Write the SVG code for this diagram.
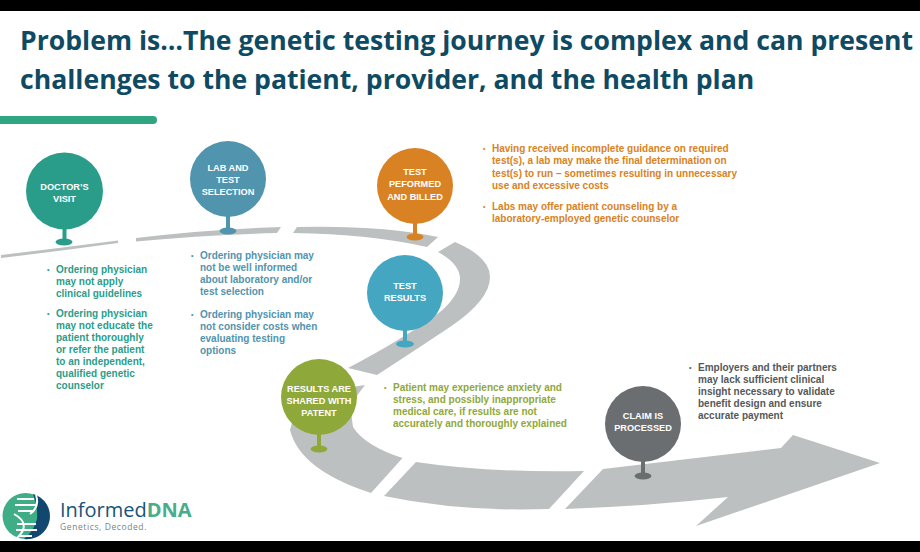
<svg xmlns="http://www.w3.org/2000/svg" width="920" height="552" viewBox="0 0 920 552">
<style>
.t{font-family:"Open Sans","Liberation Sans",sans-serif;font-weight:700;font-size:26.6px;fill:#0f4a63}
.n{font-family:"Liberation Sans",Arial,sans-serif;font-weight:700;font-size:9.2px;fill:#fff;text-anchor:middle}
.b{font-family:"Liberation Sans",Arial,sans-serif;font-weight:700;font-size:10px}
.d{font-size:7px}
.road{fill:#bcc0c1}
.teal{fill:#2a9d8a}.blue{fill:#5194ae}.org{fill:#d98224}.cyan{fill:#45a6c1}.grn{fill:#8fa83a}.gry{fill:#6b6e70}
</style>
<rect width="920" height="552" fill="#fff"/>
<rect width="920" height="11" fill="#000"/>
<rect y="541" width="920" height="11" fill="#000"/>
<text class="t" x="20" y="50">Problem is…The genetic testing journey is complex and can present</text>
<text class="t" x="20" y="89">challenges to the patient, provider, and the health plan</text>
<rect x="-8" y="116" width="165" height="8" rx="4" fill="#2fa67f"/>
<g id="connectors">
<path class="road" d="M1 255Q60 248 118 240.5L118 243Q60 251 1 258Z"/>
<path class="road" d="M136 238Q210 229 281 227L277 233Q205 235 136 241.5Z"/>
<path class="road" d="M297 227Q380 225 438 237L427 247Q370 234 293 233Z"/>
<path class="road" d="M455 242Q490 257 490 277Q490 300 450 327Q420 347 377 375L348 368Q405 338 440 312Q460 295 460 279Q460 264 438 252Z"/>
<path class="road" d="M365 385L350 405L353 427Q365 446 402.500 458L371 493Q300 470 290 430L300 395Z"/>
<path class="road" d="M416 462Q490 473 584 471L549 509Q460 512 384 496Z"/>
<path class="road" d="M603 469L781 448L793 435L880 463L696 526L728 497Q650 506 565 509Z"/>
</g>
<g id="doctors-visit">
<rect class="teal" x="62.500" y="225" width="4" height="17"/><ellipse class="teal" cx="64" cy="242" rx="8.500" ry="3.500"/>
<circle class="teal" cx="64.500" cy="191" r="38.500"/>
<text class="n" x="64.500" y="190">DOCTOR’S</text><text class="n" x="64.500" y="202">VISIT</text>
</g>
<g id="lab-and-test">
<rect class="blue" x="226" y="213" width="4" height="17"/><ellipse class="blue" cx="228" cy="231" rx="8.500" ry="3.500"/>
<circle class="blue" cx="228" cy="179" r="38"/>
<text class="n" x="228" y="171">LAB AND</text><text class="n" x="228" y="183">TEST</text><text class="n" x="228" y="195">SELECTION</text>
</g>
<g id="test-performed">
<rect class="org" x="413" y="220" width="4" height="17"/><ellipse class="org" cx="415" cy="237" rx="8.500" ry="3.500"/>
<circle class="org" cx="415" cy="186" r="38"/>
<text class="n" x="415" y="175">TEST</text><text class="n" x="415" y="187">PEFORMED</text><text class="n" x="415" y="200">AND BILLED</text>
</g>
<g id="test-results">
<rect class="cyan" x="403" y="327" width="4" height="17"/><ellipse class="cyan" cx="405" cy="344" rx="9" ry="3.500"/>
<circle class="cyan" cx="405" cy="293" r="38"/>
<text class="n" x="405" y="289">TEST</text><text class="n" x="405" y="301">RESULTS</text>
</g>
<g id="results-shared">
<rect class="grn" x="317" y="433" width="4" height="17"/><ellipse class="grn" cx="319" cy="449" rx="8.500" ry="3.500"/>
<circle class="grn" cx="319" cy="397" r="38"/>
<text class="n" x="319" y="392">RESULTS ARE</text><text class="n" x="319" y="404">SHARED WITH</text><text class="n" x="319" y="416">PATENT</text>
</g>
<g id="claim">
<rect class="gry" x="641" y="460" width="4" height="16"/><ellipse class="gry" cx="643" cy="476" rx="8.500" ry="3.500"/>
<circle class="gry" cx="643" cy="424" r="38"/>
<text class="n" x="643" y="419">CLAIM IS</text><text class="n" x="643" y="431">PROCESSED</text>
</g>
<g class="b" fill="#2a9d8a">
<text class="d" x="47" y="272">•</text>
<text x="56" y="273">Ordering physician</text><text x="56" y="285">may not apply</text><text x="56" y="297">clinical guidelines</text>
<text class="d" x="47" y="316">•</text>
<text x="56" y="317">Ordering physician</text><text x="56" y="329">may not educate the</text><text x="56" y="341">patient thoroughly</text><text x="56" y="353">or refer the patient</text><text x="56" y="365">to an independent,</text><text x="56" y="377">qualified genetic</text><text x="56" y="389">counselor</text>
</g>
<g class="b" fill="#5194ae">
<text class="d" x="191" y="258">•</text>
<text x="200" y="259">Ordering physician may</text><text x="200" y="271">not be well informed</text><text x="200" y="283">about laboratory and/or</text><text x="200" y="295">test selection</text>
<text class="d" x="191" y="317">•</text>
<text x="200" y="318">Ordering physician may</text><text x="200" y="330">not consider costs when</text><text x="200" y="342">evaluating testing</text><text x="200" y="354">options</text>
</g>
<g class="b" fill="#d98224">
<text class="d" x="483" y="151">•</text>
<text x="492" y="152">Having received incomplete guidance on required</text><text x="492" y="164">test(s), a lab may make the final determination on</text><text x="492" y="177">test(s) to run – sometimes resulting in unnecessary</text><text x="492" y="189">use and excessive costs</text>
<text class="d" x="483" y="209">•</text>
<text x="492" y="210">Labs may offer patient counseling by a</text><text x="492" y="222">laboratory-employed genetic counselor</text>
</g>
<g class="b" fill="#8fa83a">
<text class="d" x="384" y="390">•</text>
<text x="393" y="391">Patient may experience anxiety and</text><text x="393" y="403">stress, and possibly inappropriate</text><text x="393" y="415">medical care, if results are not</text><text x="393" y="427">accurately and thoroughly explained</text>
</g>
<g class="b" fill="#55585a">
<text class="d" x="689" y="370">•</text>
<text x="698" y="371">Employers and their partners</text><text x="698" y="383">may lack sufficient clinical</text><text x="698" y="395">insight necessary to validate</text><text x="698" y="407">benefit design and ensure</text><text x="698" y="419">accurate payment</text>
</g>
<g id="logo">
<circle cx="25.500" cy="516" r="23" fill="#3fae87"/>
<path d="M33 494A23 23 0 0 1 24 539Q34 531 37 519Q38 505 33 494Z" fill="#12476f"/>
<path d="M14 514Q32 524 17 538" stroke="#fff" stroke-width="2" fill="none"/>
<path d="M36 495Q40 507 30 514" stroke="#fff" stroke-width="2" fill="none"/>
<path d="M17 499H34M15 505H36M18 511H34M17 524H36M16 530H37M18 536H32" stroke="#fff" stroke-width="2" fill="none"/>
<text x="60" y="517" font-family="'Open Sans','Liberation Sans',sans-serif" font-size="20" fill="#17557a">Informed<tspan font-weight="700" fill="#49ad8c">DNA</tspan></text>
<text x="60" y="530" font-family="'Open Sans','Liberation Sans',sans-serif" font-size="8.500" letter-spacing=".6" fill="#7b7f82">Genetics, Decoded.</text>
</g>
</svg>
